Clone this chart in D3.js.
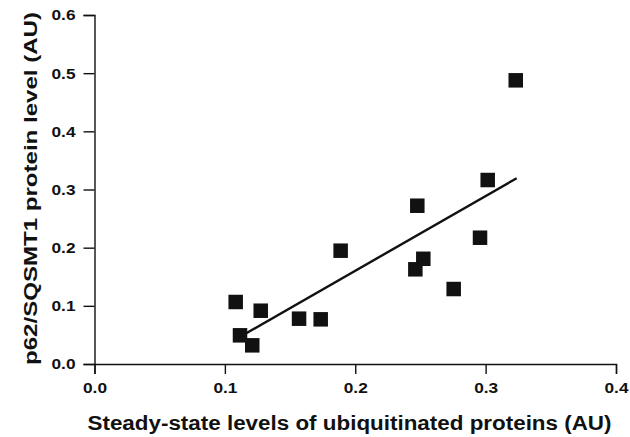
<!DOCTYPE html>
<html><head><meta charset="utf-8">
<script src="https://cdn.jsdelivr.net/npm/d3@7"></script>
<style>body{margin:0;background:#fff}</style>
</head><body>
<script>
const xValues = [0.1083,0.1275,0.1116,0.1210,0.1569,0.1735,0.1888,0.3231,0.3016,0.2476,0.2957,0.2522,0.2461,0.2755];
const yValues = [0.1066,0.0916,0.0493,0.0321,0.0779,0.0768,0.1948,0.4877,0.3163,0.2721,0.2171,0.1809,0.1628,0.1289];
const fitX = [0.1154, 0.3238];
const fitY = [0.0516, 0.3193];
const xTicks = [0.0,0.1,0.2,0.3,0.4];
const yTicks = [0.0,0.1,0.2,0.3,0.4,0.5,0.6];
const xTitle = "Steady-state levels of ubiquitinated proteins (AU)";
const yTitle = "p62/SQSMT1 protein level (AU)";

const W=630,H=437;
const svg=d3.select("body").append("svg").attr("width",W).attr("height",H);
const x=d3.scaleLinear().domain([0,0.4]).range([94.5,616]);
const y=d3.scaleLinear().domain([0,0.6]).range([364,15]);
const font="'Liberation Sans', Arial, Helvetica, sans-serif";

const gx=svg.append("g").attr("transform",`translate(0,${y(0)})`)
  .call(d3.axisBottom(x).tickValues(xTicks).tickFormat(d3.format(".1f")).tickSizeOuter(0).tickSize(10).tickPadding(8));
const gy=svg.append("g").attr("transform",`translate(${x(0)},0)`)
  .call(d3.axisLeft(y).tickValues(yTicks).tickFormat(d3.format(".1f")).tickSizeOuter(0).tickSize(11).tickPadding(8));
[gx,gy].forEach(g=>{
  g.select(".domain").attr("stroke","#111").attr("stroke-width",1.4);
  g.selectAll(".tick line").attr("stroke","#111").attr("stroke-width",1.4);
  g.selectAll(".tick text").attr("fill","#111").style("font-family",font).style("font-size","15.5px").style("font-weight","bold")
    .attr("textLength",24).attr("lengthAdjust","spacingAndGlyphs");
});

svg.append("line")
  .attr("x1",x(fitX[0])).attr("y1",y(fitY[0]))
  .attr("x2",x(fitX[1])).attr("y2",y(fitY[1]))
  .attr("stroke","#111").attr("stroke-width",2.4);

const s=14.5;
svg.append("g").selectAll("rect").data(xValues.map((v,i)=>[v,yValues[i]])).join("rect")
  .attr("x",d=>x(d[0])-s/2).attr("y",d=>y(d[1])-s/2)
  .attr("width",s).attr("height",s).attr("fill","#111");

svg.append("text").attr("x",349.5).attr("y",430).attr("text-anchor","middle")
  .style("font-family",font).style("font-size","19.5px").style("font-weight","bold").attr("fill","#111")
  .attr("textLength",524).attr("lengthAdjust","spacingAndGlyphs")
  .text(xTitle);
svg.append("text").attr("transform","translate(37,188.5) rotate(-90)").attr("text-anchor","middle")
  .style("font-family",font).style("font-size","18.5px").style("font-weight","bold").attr("fill","#111")
  .attr("textLength",353).attr("lengthAdjust","spacingAndGlyphs")
  .text(yTitle);
</script>
</body></html>
